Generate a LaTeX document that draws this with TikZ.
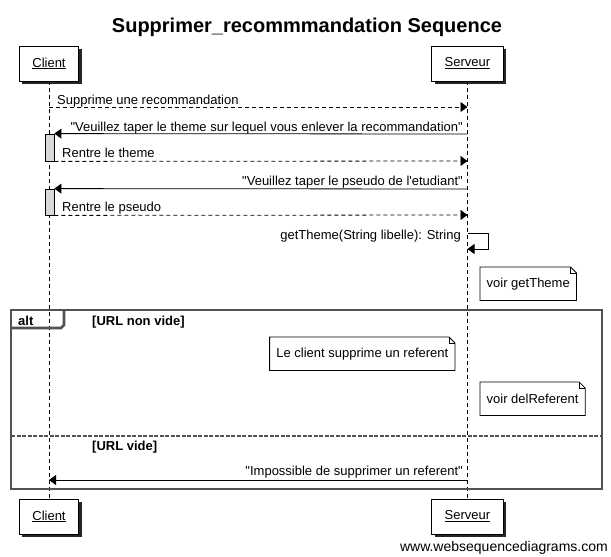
\documentclass[tikz,border=0pt]{standalone}
\usepackage{fontspec}
\setmainfont{Liberation Sans}
\usetikzlibrary{positioning, calc, arrows.meta, shadows}
\tikzstyle{Msg} = [
%solid message:
line width=0.8pt, -{Triangle[length=7pt, width=10pt]}
]
\tikzstyle{Ret} = [Msg, dash pattern=on 4pt off 3pt]
\newcommand{\q}{\textquotedbl}

\begin{document}
\begin{tikzpicture}[x=1pt, y=-1pt,
				font=\fontsize{13pt}{15pt}\selectfont,
				actor/.style = {rectangle, draw, line width=0.8pt, fill=white, minimum height=35pt, inner xsep=13pt, drop shadow={shadow xshift=3pt, shadow yshift=-3pt, fill=black!85, opacity=1}},
				life/.style = {line width=0.8pt, dash pattern=on 4pt off 3pt},
				act/.style = {rectangle, draw, line width=0.8pt, fill=black!15, minimum width=9pt, inner sep=0pt},
				lbl/.style = {inner sep=0pt},
				note/.style = {rectangle, inner xsep=6.5pt, minimum height=33pt},
				fold/.style = {line width=0.8pt},
				frame/.style = {line width=2.7pt, draw=black!68},
				guard/.style = {inner sep=0pt, anchor=base west, font=\fontsize{13pt}{15pt}\selectfont\bfseries},
			]
			\useasboundingbox (0,0) rectangle (611,557);

			\node[inner sep=0pt, anchor=base, font=\fontsize{20pt}{24pt}\selectfont\bfseries](title) at (307,32){Supprimer\_recommmandation Sequence};

			\node[actor](ClientTop) at (49,63.5){\underline{Client}};
			\node[actor](ServeurTop) at (467.5,63.5){\underline{Serveur}};
			\node[actor](ClientBot) at (49,516.5){\underline{Client}};
			\node[actor](ServeurBot) at (467.5,516.5){\underline{Serveur}};

			\draw[life](ClientTop)--(ClientBot);
			\draw[life](ServeurTop)--(ServeurBot);

			\node[act, minimum height=27pt](A1) at (49.5,147.5){};
			\node[act, minimum height=26pt](A2) at (49.5,202){};

			\coordinate(C1) at (49,107);
			\coordinate(S1) at (467.5,107);
			\coordinate(S2) at (467.5,134);
			\coordinate(S3) at (467.5,161);
			\coordinate(S4) at (467.5,189);
			\coordinate(S5) at (467.5,215);
			\coordinate(S6) at (467.5,233);
			\coordinate(T6) at (488,233);
			\coordinate(U6) at (488,249);
			\coordinate(S7) at (467.5,249);
			\coordinate(S8) at (467.5,480);
			\coordinate(C8) at (49,480);

			\draw[Ret](C1)--(S1);
			\node[lbl, anchor=base west](M1) at (57,104){Supprime une recommandation};
			\draw[Msg](S2)--(A1.north east);
			\node[lbl, anchor=base east](M2) at (463,131){\q Veuillez taper le theme sur lequel vous enlever la recommandation\q};
			\draw[Ret](A1.south east)--(S3);
			\node[lbl, anchor=base west](M3) at (62,157){Rentre le theme};
			\draw[Msg](S4)--(A2.north east);
			\node[lbl, anchor=base east](M4) at (463,185.5){\q Veuillez taper le pseudo de l\textquotesingle etudiant\q};
			\draw[Ret](A2.south east)--(S5);
			\node[lbl, anchor=base west](M5) at (62,211.5){Rentre le pseudo};
			\draw[Msg](S6)--(T6)--(U6)--(S7);
			\node[lbl, anchor=base east](M6) at (461,239.5){getTheme(String libelle): String};

			\node[note, anchor=north west](N1) at (480,267){voir getTheme};
			\draw[fold](N1.north west)--($(N1.north east)+(-6,0)$)--($(N1.north east)+(0,6)$)--(N1.south east)--(N1.south west)--cycle;
			\draw[fold]($(N1.north east)+(-6,0)$)|-($(N1.north east)+(0,6)$);

			% alt frame
			\coordinate(AltNW) at (11,310);
			\coordinate(AltSE) at (602,489);
			\draw[frame](AltNW) rectangle (AltSE);
			\draw[frame](11,328)--(61,328)--(64,325)--(64,310);
			\draw[frame, dash pattern=on 4pt off 1.5pt](11,436)--(602,436);
			\node[guard](Alt) at (18,325){alt};
			\node[guard](G1) at (92,325){[URL non vide]};
			\node[guard](G2) at (92,450){[URL vide]};

			\node[note, anchor=north east](N2) at (455,337){Le client supprime un referent};
			\draw[fold](N2.north west)--($(N2.north east)+(-6,0)$)--($(N2.north east)+(0,6)$)--(N2.south east)--(N2.south west)--cycle;
			\draw[fold]($(N2.north east)+(-6,0)$)|-($(N2.north east)+(0,6)$);

			\node[note, anchor=north west](N3) at (480,382){voir delReferent};
			\draw[fold](N3.north west)--($(N3.north east)+(-6,0)$)--($(N3.north east)+(0,6)$)--(N3.south east)--(N3.south west)--cycle;
			\draw[fold]($(N3.north east)+(-6,0)$)|-($(N3.north east)+(0,6)$);

			\draw[Msg](S8)--(C8);
			\node[lbl, anchor=base east](M8) at (463,475.5){\q Impossible de supprimer un referent\q};

			\node[lbl, anchor=base east, font=\fontsize{14pt}{16pt}\selectfont](WSD) at (608,551){www.websequencediagrams.com};

		\end{tikzpicture}
\end{document}
